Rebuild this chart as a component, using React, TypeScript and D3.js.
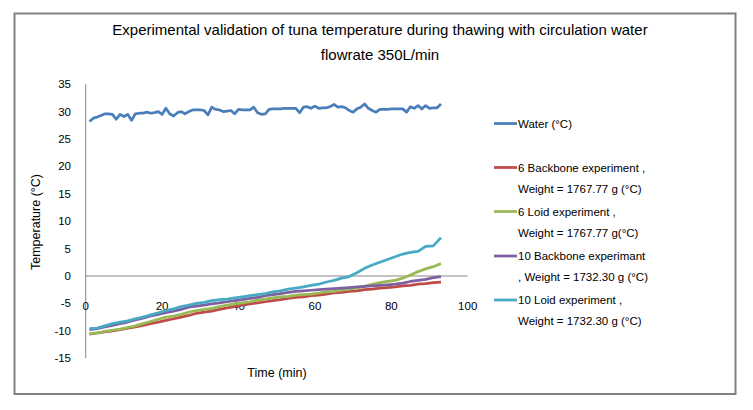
import { useEffect, useRef } from 'react';
import * as d3 from 'd3';

// time (min) for the water reading, one per minute
const waterTime = d3.range(1, 94);
const waterTemp = [
    28.2, 28.8, 29.0, 29.3, 29.6, 29.6, 29.5, 28.6, 29.5, 29.1,
    29.5, 28.4, 29.6, 29.7, 29.7, 29.9, 29.7, 29.8, 30.0, 29.5,
    30.6, 29.6, 29.2, 29.8, 30.0, 29.6, 30.0, 30.3, 30.3, 30.3,
    30.2, 29.4, 30.8, 30.4, 30.3, 30.0, 30.1, 30.2, 29.6, 30.4,
    30.3, 30.3, 30.3, 30.8, 29.8, 29.5, 29.6, 30.4, 30.5, 30.5,
    30.5, 30.6, 30.6, 30.6, 30.6, 29.8, 30.8, 30.9, 30.6, 31.0,
    30.6, 30.7, 30.7, 30.9, 31.3, 30.8, 30.9, 30.7, 30.2, 29.9,
    30.5, 30.8, 31.4, 30.6, 30.2, 29.9, 30.4, 30.4, 30.4, 30.5,
    30.5, 30.5, 30.5, 29.9, 30.9, 30.6, 31.1, 30.5, 31.1, 30.6,
    30.7, 30.7, 31.4,
];

// fish probes, read every 2 minutes
const fishTime = d3.range(1, 94, 2);
const backbone6 = [
    -10.6, -10.4, -10.2, -10.0, -9.8, -9.5, -9.3, -9.0, -8.7, -8.4,
    -8.1, -7.8, -7.5, -7.2, -6.8, -6.6, -6.4, -6.1, -5.8, -5.6,
    -5.3, -5.1, -4.9, -4.7, -4.5, -4.3, -4.1, -3.9, -3.8, -3.6,
    -3.5, -3.3, -3.1, -3.0, -2.8, -2.7, -2.5, -2.4, -2.2, -2.1,
    -2.0, -1.8, -1.7, -1.5, -1.4, -1.2, -1.1,
];
const loid6 = [
    -10.5, -10.4, -10.1, -9.9, -9.7, -9.4, -9.1, -8.7, -8.3, -7.9,
    -7.5, -7.3, -7.0, -6.6, -6.3, -6.1, -5.9, -5.6, -5.3, -5.1,
    -4.9, -4.7, -4.4, -4.2, -4.0, -3.8, -3.7, -3.5, -3.4, -3.3,
    -3.1, -2.9, -2.8, -2.6, -2.4, -2.2, -1.9, -1.5, -1.2, -1.0,
    -0.8, -0.4, 0.2, 0.8, 1.3, 1.7, 2.3,
];
const backbone10 = [
    -9.8, -9.6, -9.3, -9.0, -8.7, -8.4, -8.0, -7.7, -7.3, -7.0,
    -6.7, -6.4, -6.1, -5.7, -5.5, -5.3, -5.1, -4.9, -4.7, -4.5,
    -4.3, -4.1, -3.9, -3.6, -3.4, -3.2, -3.0, -2.8, -2.7, -2.6,
    -2.5, -2.4, -2.3, -2.2, -2.1, -2.0, -1.9, -1.8, -1.7, -1.6,
    -1.5, -1.3, -1.0, -0.8, -0.6, -0.3, -0.1,
];
const loid10 = [
    -9.6, -9.5, -9.1, -8.7, -8.4, -8.2, -7.8, -7.5, -7.1, -6.7,
    -6.3, -6.0, -5.6, -5.3, -5.0, -4.8, -4.5, -4.3, -4.2, -4.0,
    -3.8, -3.6, -3.4, -3.2, -2.9, -2.7, -2.4, -2.2, -2.0, -1.7,
    -1.5, -1.1, -0.8, -0.4, -0.1, 0.6, 1.4, 2.0, 2.5, 3.0,
    3.5, 4.0, 4.3, 4.5, 5.4, 5.5, 7.0,
];

const yTicks = [35, 30, 25, 20, 15, 10, 5, 0, -5, -10, -15];
const xTicks = [0, 20, 40, 60, 80, 100];

const seriesNames = [
    ['Water (°C)'],
    ['6 Backbone experiment ,', 'Weight = 1767.77 g (°C)'],
    ['6 Loid experiment ,', 'Weight = 1767.77 g(°C)'],
    ['10 Backbone experimant', ', Weight = 1732.30 g (°C)'],
    ['10 Loid experiment ,', 'Weight = 1732.30 g (°C)'],
];
const seriesColors = ['#4a7ebb', '#be4b48', '#98b954', '#7d60a0', '#46aac5'];

const font = '"Liberation Sans", Arial, sans-serif';

export default function App() {
    const svgRef = useRef<SVGSVGElement>(null);

    useEffect(() => {
        if (!svgRef.current) return;
        const svg = d3.select(svgRef.current);
        svg.selectAll('*').remove();

        const x = d3.scaleLinear().domain([0, 100]).range([85.7, 467.7]);
        const y = d3.scaleLinear().domain([-15, 35]).range([358.2, 84.2]);

        // outer frame
        svg.append('rect')
            .attr('x', 14.5).attr('y', 13.5)
            .attr('width', 721).attr('height', 380.5)
            .attr('fill', '#fff')
            .attr('stroke', '#808080')
            .attr('stroke-width', 2);

        // title
        const title = svg.append('text')
            .attr('text-anchor', 'middle')
            .style('font-family', font)
            .style('font-size', '15px')
            .style('fill', '#000');
        title.append('tspan').attr('x', 380).attr('y', 35)
            .text('Experimental validation of tuna temperature during thawing with circulation water');
        title.append('tspan').attr('x', 380).attr('y', 60)
            .text('flowrate 350L/min');

        // axes
        svg.append('line')
            .attr('x1', x(0)).attr('x2', x(0))
            .attr('y1', y(35)).attr('y2', y(-15))
            .attr('stroke', '#868686').attr('stroke-width', 1);
        svg.append('line')
            .attr('x1', x(0)).attr('x2', x(100))
            .attr('y1', y(0)).attr('y2', y(0))
            .attr('stroke', '#868686').attr('stroke-width', 1);

        svg.append('g').selectAll('text')
            .data(yTicks)
            .join('text')
            .attr('x', 71)
            .attr('y', d => y(d))
            .attr('dy', '0.35em')
            .attr('text-anchor', 'end')
            .style('font-family', font)
            .style('font-size', '11.5px')
            .text(d => d);

        svg.append('g').selectAll('text')
            .data(xTicks)
            .join('text')
            .attr('x', d => x(d))
            .attr('y', 306)
            .attr('dy', '0.35em')
            .attr('text-anchor', 'middle')
            .style('font-family', font)
            .style('font-size', '11.5px')
            .text(d => d);

        svg.append('text')
            .attr('x', 277).attr('y', 373)
            .attr('dy', '0.35em')
            .attr('text-anchor', 'middle')
            .style('font-family', font)
            .style('font-size', '12.5px')
            .text('Time (min)');

        svg.append('text')
            .attr('transform', 'translate(36,222) rotate(-90)')
            .attr('dy', '0.35em')
            .attr('text-anchor', 'middle')
            .style('font-family', font)
            .style('font-size', '12.5px')
            .text('Temperature (°C)');

        // series
        const lineGen = d3.line<[number, number]>()
            .x(d => x(d[0]))
            .y(d => y(d[1]));

        const series: [number, number][][] = [
            waterTime.map((t, i) => [t, waterTemp[i]]),
            fishTime.map((t, i) => [t, backbone6[i]]),
            fishTime.map((t, i) => [t, loid6[i]]),
            fishTime.map((t, i) => [t, backbone10[i]]),
            fishTime.map((t, i) => [t, loid10[i]]),
        ];
        series.forEach((s, i) => {
            svg.append('path')
                .attr('d', lineGen(s))
                .attr('fill', 'none')
                .attr('stroke', seriesColors[i])
                .attr('stroke-width', 2.75)
                .attr('stroke-linejoin', 'round');
        });

        // legend
        const legendY = [123.5, 167.5, 211.5, 256, 300];
        seriesNames.forEach((lines, i) => {
            const g = svg.append('g');
            g.append('line')
                .attr('x1', 494).attr('x2', 517)
                .attr('y1', legendY[i]).attr('y2', legendY[i])
                .attr('stroke', seriesColors[i])
                .attr('stroke-width', 2.75);
            lines.forEach((l, j) => {
                g.append('text')
                    .attr('x', 518)
                    .attr('y', legendY[i] + j * 21)
                    .attr('dy', '0.35em')
                    .style('font-family', font)
                    .style('font-size', '11.5px')
                    .text(l);
            });
        });
    }, []);

    return (
        <div style={{ position: 'absolute', left: 0, top: 0 }}>
            <svg ref={svgRef} width={753} height={410}></svg>
        </div>
    );
}
